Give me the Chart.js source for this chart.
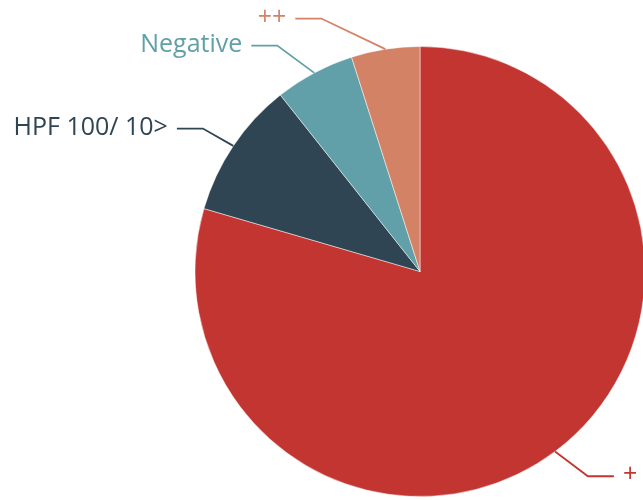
<!DOCTYPE html>
<html>
<head>
<meta charset="utf-8">
<script src="https://cdn.jsdelivr.net/npm/chart.js@4/dist/chart.umd.min.js"></script>
<style>
  html, body { margin: 0; padding: 0; background: #fff; overflow: hidden; }
  #wrap { position: relative; width: 660px; height: 500px; }
</style>
</head>
<body>
<div id="wrap"><canvas id="chart-area"></canvas></div>
<script>
(function () {
  'use strict';

  var categories = ['+', 'HPF 100/ 10>', 'Negative', '++'];
  var counts = [97, 12, 7, 6];
  var sliceColors = ['#c23531', '#2f4554', '#61a0a8', '#d48265'];

  // outside labels with a bent leader line, placed like echarts does it
  var pieLabels = {
    id: 'pieLabels',
    afterDatasetsDraw: function (chart) {
      var ctx = chart.ctx;
      var meta = chart.getDatasetMeta(0);
      var len = 31, len2 = 26, gap = 9;
      ctx.save();
      ctx.font = '25px "Open Sans", sans-serif';
      ctx.textBaseline = 'middle';
      ctx.lineWidth = 1.8;
      meta.data.forEach(function (arc, i) {
        var p = arc.getProps(['x', 'y', 'startAngle', 'endAngle', 'outerRadius'], true);
        var mid = (p.startAngle + p.endAngle) / 2;
        var r = p.outerRadius;
        var x0 = p.x + r * Math.cos(mid);
        var y0 = p.y + r * Math.sin(mid);
        var dir = Math.cos(mid) >= 0 ? 1 : -1;
        var ey = p.y + (r + len) * Math.sin(mid);
        var dy = Math.abs(ey - p.y);
        var total = r + len + len2;
        var dx = dy < r + len ? Math.sqrt(total * total - dy * dy) : Math.abs(x0 - p.x);
        var endX = p.x + dir * dx;
        var elbowX = endX - dir * len2;

        ctx.strokeStyle = sliceColors[i];
        ctx.beginPath();
        ctx.moveTo(x0, y0);
        ctx.lineTo(elbowX, ey);
        ctx.lineTo(endX, ey);
        ctx.stroke();

        ctx.fillStyle = sliceColors[i];
        ctx.textAlign = dir > 0 ? 'left' : 'right';
        ctx.fillText(categories[i], endX + dir * gap, ey - 1);
      });
      ctx.restore();
    }
  };

  var ctx = document.getElementById('chart-area').getContext('2d');
  window.myPie = new Chart(ctx, {
    type: 'pie',
    data: {
      labels: categories,
      datasets: [
        {
          data: counts,
          backgroundColor: sliceColors,
          borderColor: 'rgba(255,255,255,0.6)',
          borderWidth: 0.8,
          radius: 225
        }]
    },
    options: {
      responsive: true,
      maintainAspectRatio: false,
      animation: false,
      layout: {
        padding: { left: 195, right: 15, top: 47, bottom: 4 }
      },
      plugins: {
        legend: { display: false },
        tooltip: { enabled: false }
      }
    },
    plugins: [pieLabels]
  });
})();
</script>
</body>
</html>
